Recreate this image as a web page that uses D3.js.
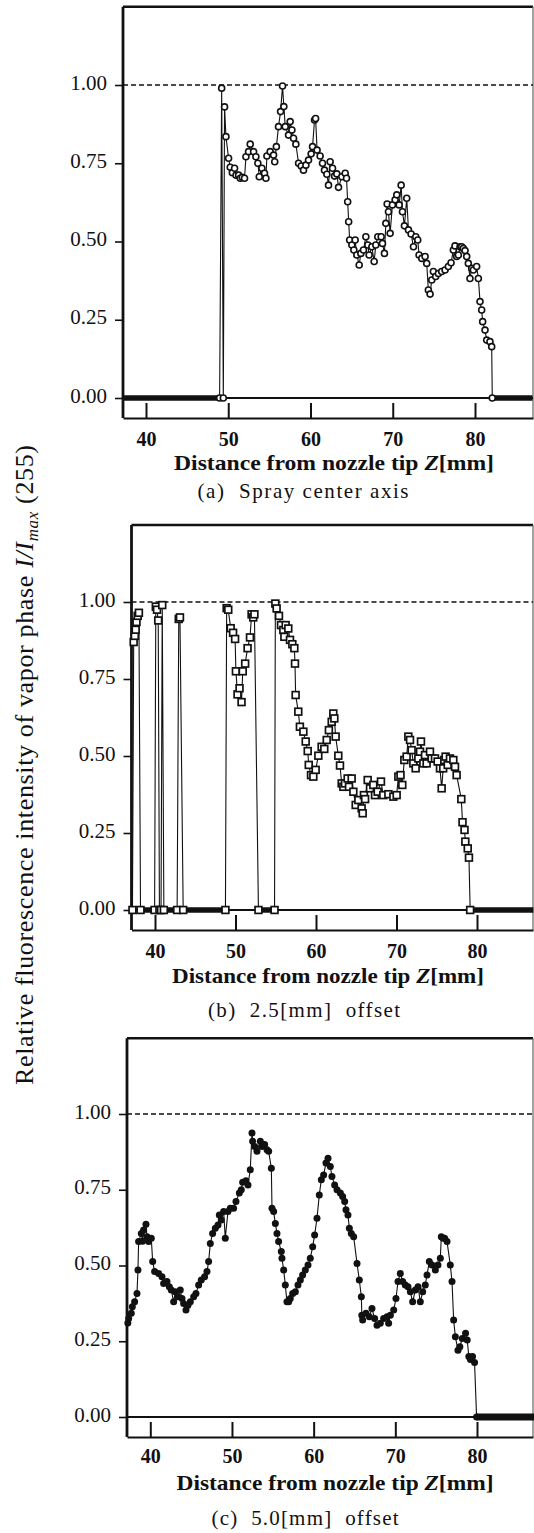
<!DOCTYPE html>
<html><head><meta charset="utf-8">
<script src="https://cdn.jsdelivr.net/npm/d3@7/dist/d3.min.js"></script>
<style>
html,body{margin:0;padding:0;background:#fff;}
svg{display:block;}
text{font-family:"Liberation Serif","Times New Roman",serif;fill:#111;}
</style></head><body>
<svg id="chart" width="534" height="1533"></svg>
<script>
// ---------- data ----------
const xTicks = [40, 50, 60, 70, 80];
const yTicks = [0, 0.25, 0.5, 0.75, 1.0];
const yMax = 1.25;

// (a) Spray center axis
const aZ = [48.95,49.2,49.4,49.55,49.72,50.04,50.24,50.5,50.77,50.95,51.26,51.46,51.7,51.98,52.15,52.47,52.67,53.08,53.36,53.6,53.77,54.09,54.41,54.58,54.7,55.1,55.51,55.65,55.85,56.11,56.36,56.6,56.76,56.93,57.33,57.53,57.74,57.94,58.22,58.55,58.87,59.15,59.44,59.76,60.08,60.25,60.49,60.62,60.8,61.17,61.46,61.7,61.99,62.19,62.39,62.68,62.92,63.2,63.41,63.81,64.22,64.38,64.52,64.64,64.76,65.03,65.27,65.43,65.63,65.92,66.12,66.44,66.73,66.97,67.13,67.46,67.74,67.94,68.18,68.59,68.75,68.99,69.16,69.32,69.48,69.68,69.96,70.29,70.49,70.78,71.02,71.18,71.42,71.7,71.91,72.23,72.52,72.8,73.04,73.2,73.53,73.93,74.13,74.33,74.54,74.74,74.94,75.22,75.55,75.95,76.36,76.76,77.09,77.37,77.57,77.77,77.98,78.18,78.38,78.58,78.79,78.99,79.19,79.39,79.6,79.8,80.2,80.41,80.61,80.81,80.93,81.22,81.42,81.82,82.03,82.1];
const aI = [0,0.99,0,0.93,0.835,0.766,0.737,0.72,0.734,0.712,0.712,0.702,0.705,0.702,0.771,0.787,0.811,0.787,0.771,0.75,0.707,0.734,0.718,0.702,0.773,0.787,0.776,0.755,0.803,0.867,0.915,0.997,0.931,0.867,0.84,0.883,0.856,0.83,0.811,0.75,0.741,0.728,0.744,0.76,0.78,0.803,0.888,0.893,0.792,0.773,0.75,0.728,0.715,0.68,0.755,0.734,0.709,0.716,0.673,0.707,0.718,0.702,0.627,0.563,0.505,0.489,0.473,0.505,0.457,0.425,0.462,0.473,0.515,0.489,0.457,0.483,0.436,0.489,0.515,0.515,0.494,0.462,0.558,0.62,0.595,0.526,0.617,0.633,0.649,0.617,0.68,0.595,0.55,0.638,0.537,0.524,0.483,0.515,0.505,0.457,0.446,0.452,0.43,0.345,0.332,0.377,0.404,0.388,0.398,0.404,0.409,0.42,0.432,0.473,0.486,0.452,0.457,0.483,0.483,0.478,0.471,0.452,0.43,0.382,0.414,0.409,0.42,0.382,0.308,0.281,0.244,0.217,0.185,0.18,0.164,0];
const aZeroRuns = [[37.2, 48.95], [82.1, 87.0]];

// (b) 2.5 mm offset
const bZ = [37.2,37.35,37.5,37.6,37.7,37.85,38.0,38.2,39.95,40.1,40.25,40.4,40.55,40.75,40.9,41.1,42.75,42.95,43.1,43.5,48.75,48.9,49.1,49.4,49.7,49.95,50.05,50.25,50.5,50.75,50.9,51.2,51.5,51.8,52.0,52.2,52.35,52.85,54.85,54.95,55.11,55.4,55.65,55.94,56.07,56.23,56.56,56.77,57.06,57.31,57.39,57.47,57.8,58.0,58.43,58.72,58.97,59.1,59.38,59.67,59.96,60.29,60.7,61.03,61.33,61.6,61.95,62.15,62.28,62.44,62.77,62.98,63.19,63.4,63.6,63.93,64.1,64.43,64.64,64.93,65.26,65.67,65.8,65.95,66.1,66.42,66.71,67.12,67.33,67.66,68.07,68.36,68.99,69.61,70.02,70.23,70.5,70.72,70.97,71.26,71.47,71.68,71.88,72.09,72.38,72.71,72.92,73.04,73.33,73.54,73.74,74.16,74.37,74.78,75.11,75.4,75.61,75.8,75.94,76.1,76.36,76.64,77.06,77.27,77.47,78.05,78.2,78.45,78.55,78.85,79.0,79.15];
const bI = [0,0.87,0.89,0.91,0.935,0.955,0.965,0,0,0.985,0.975,0.94,0,0,0.99,0,0,0.945,0.95,0,0,0.98,0.975,0.915,0.9,0.88,0.775,0.70,0.72,0.675,0.775,0.80,0.85,0.885,0.96,0.95,0.96,0,0,0.995,0.979,0.955,0.925,0.909,0.887,0.925,0.914,0.877,0.863,0.85,0.80,0.698,0.644,0.595,0.579,0.547,0.516,0.471,0.438,0.433,0.455,0.501,0.53,0.523,0.552,0.584,0.611,0.638,0.622,0.563,0.501,0.469,0.411,0.40,0.411,0.427,0.40,0.427,0.384,0.341,0.357,0.33,0.314,0.373,0.36,0.422,0.395,0.406,0.373,0.384,0.417,0.373,0.376,0.368,0.373,0.433,0.438,0.406,0.487,0.498,0.563,0.552,0.519,0.476,0.46,0.492,0.514,0.547,0.476,0.503,0.476,0.514,0.492,0.492,0.482,0.46,0.395,0.46,0.487,0.498,0.471,0.492,0.487,0.465,0.438,0.36,0.285,0.26,0.222,0.20,0.17,0];
const bZeroRuns = [[38.2, 39.95], [41.1, 42.75], [43.5, 48.75], [52.85, 54.85], [79.15, 87.0]];

// (c) 5.0 mm offset
const cZ = [37.25,37.35,37.67,37.8,38.08,38.37,38.49,38.57,38.9,39.05,39.18,39.47,39.6,39.8,40.12,40.29,40.53,41.02,41.43,41.63,42.04,42.33,42.57,42.86,43.06,43.39,43.67,43.88,44.08,44.37,44.61,44.9,45.31,45.59,45.92,46.24,46.65,46.94,47.14,47.35,47.63,47.96,48.29,48.45,48.69,48.98,49.18,49.51,49.8,50.2,50.49,50.9,51.14,51.31,51.71,51.96,52.24,52.45,52.53,52.78,53.06,53.47,53.67,54.0,54.29,54.49,54.82,54.9,55.1,55.31,55.51,55.71,56.04,56.12,56.33,56.53,56.73,56.94,57.14,57.43,57.76,58.08,58.37,58.65,58.98,59.31,59.59,59.88,60.12,60.41,60.69,60.94,61.22,61.51,61.76,62.04,62.24,62.57,62.86,63.27,63.55,63.8,63.96,64.2,64.37,64.61,64.9,65.31,65.59,65.84,65.9,66.0,66.41,66.82,67.14,67.47,67.76,68.16,68.57,68.98,69.18,69.39,69.8,70.08,70.33,70.61,70.9,71.22,71.55,71.84,72.12,72.45,72.78,73.06,73.35,73.67,73.88,74.16,74.49,74.9,75.22,75.51,75.63,75.85,76.04,76.33,76.73,76.94,77.14,77.35,77.67,77.9,78.2,78.6,78.8,79.0,79.2,79.45,79.7,79.95];
const cI = [0.31,0.325,0.342,0.364,0.38,0.408,0.485,0.579,0.606,0.58,0.617,0.636,0.595,0.579,0.59,0.513,0.48,0.474,0.463,0.441,0.447,0.43,0.419,0.38,0.413,0.397,0.419,0.391,0.375,0.353,0.369,0.38,0.397,0.408,0.436,0.452,0.463,0.48,0.513,0.573,0.606,0.623,0.634,0.667,0.65,0.678,0.59,0.678,0.689,0.689,0.711,0.739,0.75,0.775,0.78,0.766,0.816,0.937,0.91,0.893,0.877,0.91,0.893,0.899,0.882,0.877,0.821,0.689,0.678,0.639,0.606,0.579,0.546,0.524,0.485,0.436,0.38,0.38,0.391,0.408,0.413,0.436,0.452,0.469,0.485,0.502,0.524,0.562,0.601,0.656,0.733,0.783,0.799,0.838,0.854,0.827,0.794,0.766,0.75,0.739,0.728,0.711,0.684,0.667,0.623,0.606,0.595,0.507,0.452,0.397,0.336,0.32,0.342,0.331,0.358,0.325,0.303,0.309,0.325,0.331,0.309,0.336,0.353,0.391,0.447,0.474,0.447,0.436,0.43,0.413,0.38,0.419,0.43,0.38,0.413,0.436,0.469,0.513,0.502,0.485,0.502,0.524,0.595,0.59,0.59,0.579,0.502,0.447,0.32,0.265,0.22,0.232,0.259,0.276,0.254,0.2,0.19,0.2,0.18,0];
const cZeroRuns = [[79.95, 87.0]];

const captions = ["(a)  Spray center axis", "(b)  2.5[mm]  offset", "(c)  5.0[mm]  offset"];
const xTitle = ["Distance from nozzle tip ", "Z", "[mm]"];

// ---------- layout ----------
const svg = d3.select("#chart");
const RIGHT = 533;
const panels = [
  {z:aZ, v:aI, runs:aZeroRuns, marker:"circleOpen", runW:5.5, left:123, y0:398, y1:85, x40:146, x80:475,
   labY:446, titleY:470, titleX:334, titleW:320, capY:498, capX:303, capW:211, cap:captions[0]},
  {z:bZ, v:bI, runs:bZeroRuns, marker:"square", runW:5.5, left:131.5, y0:910, y1:602, x40:155, x80:477,
   labY:958, titleY:983, titleX:328, titleW:312, capY:1017, capX:304, capW:192, cap:captions[1]},
  {z:cZ, v:cI, runs:cZeroRuns, marker:"dot", runW:7, left:127, y0:1417, y1:1114, x40:150.3, x80:477,
   labY:1463, titleY:1490, titleX:335, titleW:317, capY:1525, capX:305, capW:187, cap:captions[2]}
];

panels.forEach(p => {
  const g = svg.append("g");
  const y = d3.scaleLinear().domain([0, 1]).range([p.y0, p.y1]);
  const x0 = d3.scaleLinear().domain([40, 80]).range([p.x40, p.x80]);
  const x = d3.scaleLinear().domain([x0.invert(p.left), x0.invert(RIGHT)]).range([p.left, RIGHT]);
  const top = y(yMax);
  const boxB = p.y0 + 20;

  // frame
  g.append("line").attr("x1", p.left).attr("x2", RIGHT).attr("y1", top).attr("y2", top)
    .attr("stroke", "#111").attr("stroke-width", 2.4);
  g.append("line").attr("x1", RIGHT).attr("x2", RIGHT).attr("y1", top).attr("y2", boxB)
    .attr("stroke", "#666").attr("stroke-width", 1.2);
  g.append("line").attr("x1", p.left).attr("x2", RIGHT).attr("y1", y(0)).attr("y2", y(0))
    .attr("stroke", "#111").attr("stroke-width", 1.8);

  // x axis box (ticks pointing up from box bottom)
  const xa = g.append("g").attr("transform", `translate(0,${boxB})`)
    .call(d3.axisTop(x).tickValues(xTicks).tickSize(15).tickSizeOuter(0).tickFormat(""));
  xa.select(".domain").attr("stroke", "#111").attr("stroke-width", 2.2);
  xa.selectAll(".tick line").attr("stroke", "#111").attr("stroke-width", 2);

  const xl = g.append("g").attr("transform", `translate(0,${boxB})`)
    .call(d3.axisBottom(x).tickValues(xTicks).tickSize(0).tickFormat(d3.format("d")));
  xl.select(".domain").remove();
  xl.selectAll("text").attr("y", p.labY - boxB).attr("dy", 0)
    .attr("font-size", 20).attr("font-weight", "bold").attr("fill", "#111")
    .attr("font-family", "Liberation Serif, serif");

  // y axis
  const ya = g.append("g").attr("transform", `translate(${p.left},0)`)
    .call(d3.axisLeft(y).tickValues(yTicks).tickSize(8).tickPadding(8).tickFormat(d3.format(".2f")));
  ya.select(".domain").remove();
  ya.selectAll(".tick line").attr("stroke", "#111").attr("stroke-width", 1.6);
  ya.selectAll("text").attr("font-size", 21).attr("dy", "0.2em").attr("fill", "#111")
    .attr("font-family", "Liberation Serif, serif");

  // left axis thick line
  g.append("line").attr("x1", p.left).attr("x2", p.left).attr("y1", top).attr("y2", boxB)
    .attr("stroke", "#111").attr("stroke-width", 2.8);

  // reference dashed line at 1.00
  g.append("line").attr("x1", p.left).attr("x2", RIGHT).attr("y1", y(1)).attr("y2", y(1))
    .attr("stroke", "#111").attr("stroke-width", 1.4).attr("stroke-dasharray", "5,3");

  // zero runs (dense zero-valued samples)
  g.selectAll(".run").data(p.runs).join("line")
    .attr("x1", d => x(d[0])).attr("x2", d => x(d[1]))
    .attr("y1", y(0)).attr("y2", y(0))
    .attr("stroke", "#111").attr("stroke-width", p.runW);

  const pts = p.z.map((z, i) => [z, p.v[i]]);
  // connecting line
  g.append("path").datum(pts)
    .attr("d", d3.line().x(d => x(d[0])).y(d => y(d[1])))
    .attr("fill", "none").attr("stroke", "#111").attr("stroke-width", 1.1);

  // markers
  if (p.marker === "circleOpen") {
    g.selectAll(".m").data(pts).join("circle")
      .attr("cx", d => x(d[0])).attr("cy", d => y(d[1])).attr("r", 3)
      .attr("fill", "#fff").attr("stroke", "#111").attr("stroke-width", 1.6);
  } else if (p.marker === "square") {
    g.selectAll(".m").data(pts).join("rect")
      .attr("x", d => x(d[0]) - 3.4).attr("y", d => y(d[1]) - 3.4).attr("width", 6.8).attr("height", 6.8)
      .attr("fill", "#fff").attr("stroke", "#111").attr("stroke-width", 1.7);
  } else {
    g.selectAll(".m").data(pts).join("circle")
      .attr("cx", d => x(d[0])).attr("cy", d => y(d[1])).attr("r", 3.5)
      .attr("fill", "#111");
  }

  // x title
  const t = g.append("text").attr("x", p.titleX).attr("y", p.titleY).attr("text-anchor", "middle")
    .attr("font-size", 21).attr("font-weight", "bold")
    .attr("textLength", p.titleW).attr("lengthAdjust", "spacingAndGlyphs");
  t.append("tspan").text(xTitle[0]);
  t.append("tspan").attr("font-style", "italic").text(xTitle[1]);
  t.append("tspan").text(xTitle[2]);

  // caption
  g.append("text").attr("x", p.capX).attr("y", p.capY).attr("text-anchor", "middle")
    .attr("font-size", 21).style("white-space", "pre")
    .attr("textLength", p.capW).attr("lengthAdjust", "spacing")
    .text(p.cap);
});

// shared y-axis label
const yl = svg.append("text").attr("transform", "translate(33,765) rotate(-90)")
  .attr("text-anchor", "middle").attr("font-size", 26)
  .attr("textLength", 640).attr("lengthAdjust", "spacing");
yl.append("tspan").text("Relative fluorescence intensity of vapor phase ");
yl.append("tspan").attr("font-style", "italic").text("I/I");
yl.append("tspan").attr("font-style", "italic").attr("font-size", 17).attr("dy", 5).text("max");
yl.append("tspan").attr("dy", -5).text(" (255)");
</script>
</body></html>
